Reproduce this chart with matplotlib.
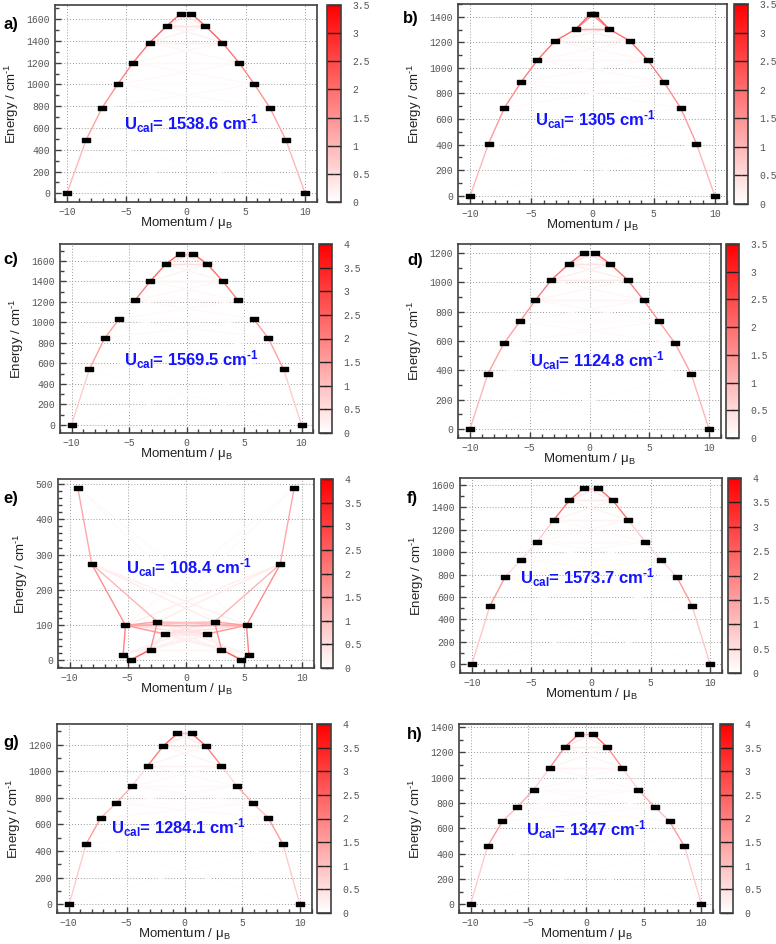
import matplotlib
matplotlib.use('Agg')
import matplotlib.pyplot as plt
from matplotlib.colors import LinearSegmentedColormap, Normalize
from matplotlib.collections import LineCollection
from matplotlib.ticker import MultipleLocator, AutoMinorLocator, FuncFormatter
from matplotlib.path import Path
import matplotlib.cm as cm

plt.rcParams['font.family'] = ['Liberation Sans', 'DejaVu Sans']
plt.rcParams['mathtext.fontset'] = 'custom'
plt.rcParams['mathtext.rm'] = 'Liberation Sans'
plt.rcParams['mathtext.it'] = 'Liberation Sans:italic'
plt.rcParams['mathtext.bf'] = 'Liberation Sans:bold'

W, H = 776, 944
TICK_FONT = 'Liberation Mono'
TICK_COLOR = '#555555'
HYPH = '\u2010'

# ---- data: doublet energies (cm-1), moments (muB), transition |mu| ----
E_a = [0, 487, 785, 1000, 1200, 1385, 1540, 1650]
M_a = [10.0, 8.4, 7.05, 5.75, 4.45, 3.05, 1.6, 0.45]
chain_a = [1.0, 1.3, 1.5, 1.7, 1.9, 2.2, 2.0]
cross_a = [0.05, 0.05, 0.08, 0.1, 0.12, 0.2, 0.4]
pair_a = [0.0, 0.0, 0.0, 0.06, 0.1, 0.2, 0.4, 0.5]

E_b = [0, 408, 688, 888, 1062, 1208, 1305, 1425]
M_b = [10.0, 8.5, 7.2, 5.85, 4.5, 3.1, 1.35, 0.15]
chain_b = [1.0, 1.4, 1.6, 1.8, 2.0, 2.0, 2.2]
cross_b = [0.05, 0.05, 0.08, 0.1, 0.12, 0.2, 1.6]
pair_b = [0.0, 0.0, 0.0, 0.06, 0.1, 0.2, 1.2, 1.0]

E_c = [0, 540, 845, 1032, 1215, 1402, 1570, 1672]
M_c = [10.0, 8.45, 7.12, 5.85, 4.48, 3.15, 1.8, 0.55]
chain_c = [0.8, 1.5, 1.5, 0.1, 2.0, 2.3, 2.5]
cross_c = [0.05, 0.05, 0.08, 0.1, 0.12, 0.2, 0.4]
pair_c = [0.0, 0.0, 0.0, 0.06, 0.1, 0.2, 0.5, 1.0]

E_d = [0, 373, 584, 733, 878, 1015, 1124, 1200]
M_d = [10.0, 8.52, 7.16, 5.82, 4.52, 3.2, 1.73, 0.48]
chain_d = [1.0, 1.3, 1.3, 1.5, 1.8, 2.0, 2.2]
cross_d = [0.05, 0.05, 0.08, 0.1, 0.12, 0.25, 0.4]
pair_d = [0.0, 0.0, 0.0, 0.06, 0.15, 0.3, 0.4, 0.5]

E_f = [0, 520, 780, 932, 1095, 1286, 1462, 1576]
M_f = [10.0, 8.49, 7.2, 5.88, 4.52, 3.14, 1.83, 0.57]
chain_f = [0.9, 1.6, 0.6, 0.5, 0.8, 2.2, 2.4]
cross_f = [0.05, 0.05, 0.08, 0.1, 0.12, 0.2, 0.35]
pair_f = [0.0, 0.0, 0.0, 0.06, 0.1, 0.2, 0.3, 0.8]

E_g = [0, 453, 650, 760, 887, 1043, 1190, 1284]
M_g = [9.95, 8.49, 7.22, 5.9, 4.54, 3.16, 1.84, 0.61]
chain_g = [0.8, 1.6, 1.0, 1.3, 0.6, 2.0, 2.4]
cross_g = [0.05, 0.05, 0.08, 0.1, 0.12, 0.2, 0.35]
pair_g = [0.0, 0.0, 0.0, 0.06, 0.1, 0.2, 0.3, 1.0]

E_h = [0, 457, 655, 769, 905, 1076, 1242, 1348]
M_h = [10.0, 8.53, 7.24, 5.94, 4.53, 3.16, 1.84, 0.6]
chain_h = [0.8, 1.6, 1.0, 1.3, 0.7, 1.8, 2.3]
cross_h = [0.05, 0.05, 0.08, 0.1, 0.12, 0.2, 0.35]
pair_h = [0.0, 0.0, 0.0, 0.06, 0.1, 0.2, 0.3, 1.0]

# panel e has a scrambled level order, so its transitions are listed one by one
E_e = [0, 15, 29.5, 74, 98.5, 108.5, 272.7, 490]
M_e = [4.75, 5.4, 3.05, 1.8, 5.2, 2.45, 8.1, 9.3]
# (level i, level j, opposite side?, |mu|)
trans_e = [
    (7, 6, False, 1.4), (6, 4, False, 1.8), (6, 5, False, 1.2),
    (6, 5, True, 0.3), (6, 4, True, 0.25), (7, 5, True, 0.08), (7, 4, True, 0.08),
    (4, 1, False, 2.0), (4, 3, False, 1.6), (4, 4, True, 1.4), (4, 5, False, 1.5),
    (4, 5, True, 1.0), (4, 3, True, 0.5), (5, 5, True, 0.8), (5, 3, True, 0.5),
    (3, 3, True, 0.4), (5, 2, False, 1.8), (2, 0, False, 2.6), (1, 0, False, 2.0),
    (3, 2, False, 0.3), (3, 1, True, 0.25), (5, 1, True, 0.25), (2, 2, True, 0.15),
    (5, 0, True, 0.2), (4, 2, True, 0.25), (3, 0, False, 0.25),
]

U_text = ['1538.6', '1305', '1569.5', '1124.8', '108.4', '1573.7', '1284.1', '1347']
cbar_max = [3.5, 3.5, 4, 3.5, 4, 4, 4, 4]
labels = ['a)', 'b)', 'c)', 'd)', 'e)', 'f)', 'g)', 'h)']


def regular(chain, cross, pair):
    t = [(k, k + 1, False, chain[k]) for k in range(7)]
    t += [(k, k + 1, True, cross[k]) for k in range(7)]
    t += [(k, k, True, pair[k]) for k in range(8)]
    return t


panels = [
    (E_a, M_a, regular(chain_a, cross_a, pair_a)),
    (E_b, M_b, regular(chain_b, cross_b, pair_b)),
    (E_c, M_c, regular(chain_c, cross_c, pair_c)),
    (E_d, M_d, regular(chain_d, cross_d, pair_d)),
    (E_e, M_e, trans_e),
    (E_f, M_f, regular(chain_f, cross_f, pair_f)),
    (E_g, M_g, regular(chain_g, cross_g, pair_g)),
    (E_h, M_h, regular(chain_h, cross_h, pair_h)),
]

# layout in pixels: axes (l, t, r, b), colorbar (l, r), y range, y step, text pos, label pos
layout = [
    ((55, 5, 317, 202), (327, 341), (-80, 1730), 200, (0.52, 0.40), (3, 25)),
    ((458, 4, 727, 204), (734, 748), (-65, 1500), 200, (0.51, 0.42), (403, 18)),
    ((60, 244, 313, 433), (319, 332), (-80, 1765), 200, (0.52, 0.39), (3, 260)),
    ((458, 244, 721, 438), (726, 739), (-60, 1260), 200, (0.53, 0.40), (407, 261)),
    ((58, 479, 314, 668), (321, 333), (-23, 515), 100, (0.51, 0.53), (3, 499)),
    ((460, 478, 722, 673), (728, 741), (-80, 1663), 200, (0.485, 0.49), (407, 499)),
    ((57, 724, 312, 913), (317, 331), (-65, 1355), 200, (0.475, 0.45), (3, 742)),
    ((459, 724, 713, 913), (720, 733), (-70, 1425), 200, (0.50, 0.44), (407, 735)),
]

cmap = LinearSegmentedColormap.from_list('wr', ['#ffffff', '#ff0000'])
box = Path([(-1, -0.55), (1, -0.55), (1, 0.55), (-1, 0.55), (-1, -0.55)],
           [Path.MOVETO, Path.LINETO, Path.LINETO, Path.LINETO, Path.CLOSEPOLY])

fig = plt.figure(figsize=(W / 100, H / 100), dpi=100)


def frac(l, t, r, b):
    return [l / W, 1 - b / H, (r - l) / W, (b - t) / H]


for n in range(8):
    E, M, trans = panels[n]
    (l, t, r, b), (cl, cr), ylim, ystep, tpos, lpos = layout[n]
    vmax = cbar_max[n]
    ax = fig.add_axes(frac(l, t, r, b))
    cax = fig.add_axes(frac(cl, t, cr, b))
    norm = Normalize(0, vmax)

    segs, vals = [], []
    for i, j, opp, v in sorted(trans, key=lambda x: x[3]):
        if v < 0.05:
            continue
        for s in (1, -1):
            sj = -s if opp else s
            segs.append([(s * M[i], E[i]), (sj * M[j], E[j])])
            vals.append(v)
    lc = LineCollection(segs, colors=[cmap(norm(v)) for v in vals], linewidths=1.0, zorder=2)
    ax.add_collection(lc)

    xs = [-m for m in M] + list(M)
    ys = list(E) + list(E)
    ax.plot(xs, ys, linestyle='none', marker=box, markersize=6, color='black', zorder=3)

    ax.set_xlim(-11, 11)
    ax.set_ylim(*ylim)
    ax.xaxis.set_major_locator(MultipleLocator(5))
    ax.xaxis.set_minor_locator(MultipleLocator(1))
    ax.yaxis.set_major_locator(MultipleLocator(ystep))
    ax.yaxis.set_minor_locator(AutoMinorLocator(5 if ystep == 100 else 2))
    ax.grid(True, which='major', linestyle=(0, (1, 2)), color='#9a9a9a', linewidth=0.7, zorder=0)
    ax.tick_params(which='both', direction='in', colors='#404040', labelcolor=TICK_COLOR,
                   labelsize=7, top=False, right=False)
    ax.tick_params(which='major', length=4, width=1)
    ax.tick_params(which='minor', length=3, width=1)
    for lab in ax.get_xticklabels() + ax.get_yticklabels():
        lab.set_family(TICK_FONT)
    for sp in ax.spines.values():
        sp.set_color('#404040')
        sp.set_linewidth(1.2)
    ax.set_xlabel(r'Momentum / $\mathregular{\mu_B}$', fontsize=9.5, color='#222222', labelpad=-1)
    ax.set_ylabel(r'Energy / cm$^{\mathregular{' + HYPH + '1}}$', fontsize=9.5,
                  color='#222222', labelpad=4)

    ax.text(tpos[0], tpos[1], r'U$_{\mathbf{cal}}$= ' + U_text[n] + r' cm$^{\mathbf{' + HYPH + '1}}$',
            transform=ax.transAxes, ha='center', va='center', color='#1414ff',
            fontsize=12, fontweight='bold', zorder=4)

    cb = fig.colorbar(cm.ScalarMappable(norm=norm, cmap=cmap), cax=cax)
    cb.set_ticks([k * 0.5 for k in range(int(vmax * 2) + 1)])
    cb.formatter = FuncFormatter(lambda v, p: '%g' % v)
    cb.update_ticks()
    cax.yaxis.set_ticks_position('both')
    cax.tick_params(direction='in', length=5, width=1, colors='#222222', labelcolor=TICK_COLOR,
                    labelsize=7, left=True, right=True, labelleft=False, labelright=True, pad=8)
    for lab in cax.get_yticklabels():
        lab.set_family(TICK_FONT)
    cb.outline.set_edgecolor('#404040')
    cb.outline.set_linewidth(1.2)

    fig.text(lpos[0] / W, 1 - lpos[1] / H, labels[n], fontsize=12, fontweight='bold',
             ha='left', va='center')

fig.savefig('out.png', dpi=100)
